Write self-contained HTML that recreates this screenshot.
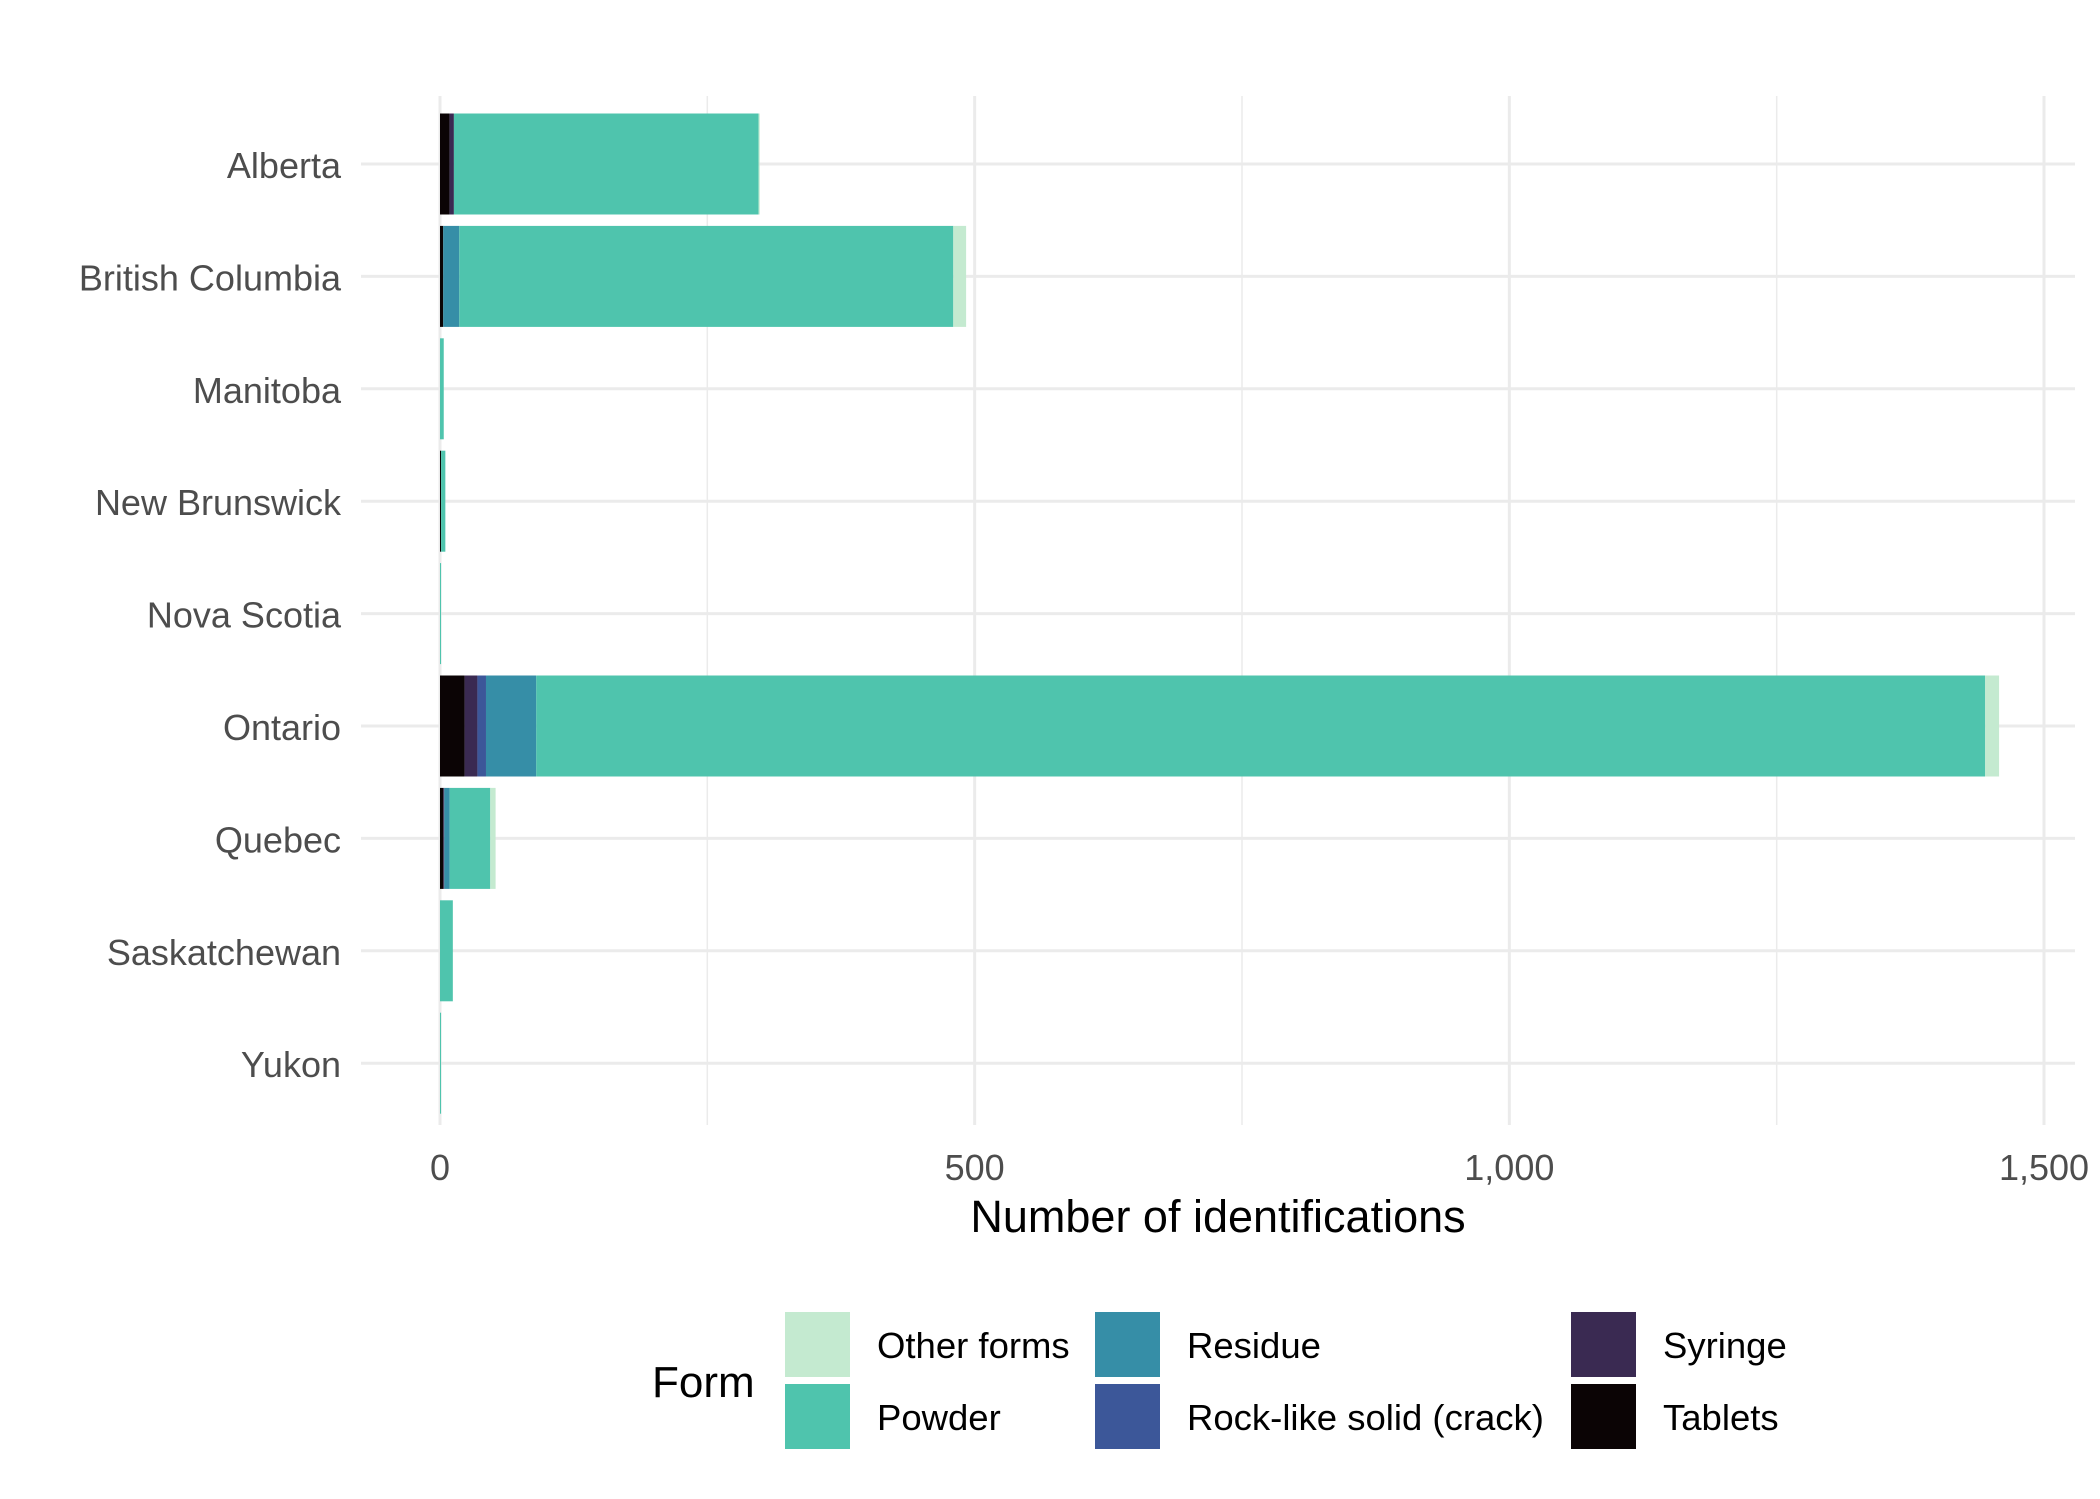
<!DOCTYPE html>
<html><head><meta charset="utf-8"><style>
html,body{margin:0;padding:0;background:#fff;}
svg{display:block;font-family:"Liberation Sans",sans-serif;}
</style></head><body>
<svg id="chart" width="2100" height="1499" viewBox="0 0 2100 1499"></svg>
<script>
const provinces = ["Alberta","British Columbia","Manitoba","New Brunswick","Nova Scotia","Ontario","Quebec","Saskatchewan","Yukon"];
const forms = ["Tablets","Syringe","Rock-like solid (crack)","Residue","Powder","Other forms"];
const tablets = [9,3,0,1,0,23,3,0,0];
const syringe = [4,0,0,0,0,12,1,0,0];
const rock = [0,0,0,0,0,8,0,0,0];
const residue = [0,15,0,0,0,47,5,0,0];
const powder = [285,462,3.5,4,1,1355,38,12,1];
const other = [1,12,0,0,0,13,5,0,0];
const xTicks = [0,500,1000,1500];
const xTickLabels = ["0","500","1,000","1,500"];
const xMinor = [250,750,1250];

const colors = {"Tablets":"#0b0405","Syringe":"#3a2a52","Rock-like solid (crack)":"#3c5799","Residue":"#368ea7","Powder":"#4fc4ad","Other forms":"#c4ead0"};
const series = [tablets,syringe,rock,residue,powder,other];
const NS="http://www.w3.org/2000/svg";
const svg=document.getElementById('chart');
function x(v){return 440+v*(2044-440)/1500;}
function y(i){return 164+i*112.4;}
const barH=101;
function mk(tag,attrs,parent){const e=document.createElementNS(NS,tag);for(const k in attrs)e.setAttribute(k,attrs[k]);(parent||svg).appendChild(e);return e;}

xMinor.forEach(v=>{const l=mk('line',{x1:x(v),x2:x(v),y1:96,y2:1125,stroke:'#ebebeb','stroke-width':1.5});

});
xTicks.forEach(v=>{const l=mk('line',{x1:x(v),x2:x(v),y1:96,y2:1125,stroke:'#ebebeb','stroke-width':3});

});
provinces.forEach((p,i)=>{const l=mk('line',{x1:361,x2:2075,y1:y(i),y2:y(i),stroke:'#ebebeb','stroke-width':3});

});

provinces.forEach((p,i)=>{
  let acc=0;
  series.forEach((s,k)=>{
    const v=s[i]; if(v<=0) return;
    const r=mk('rect',{x:x(acc),y:y(i)-barH/2,width:x(acc+v)-x(acc),height:barH,fill:colors[forms[k]]});
    
    
    acc+=v;
  });
  const t=mk('text',{x:341,y:y(i)+14,'text-anchor':'end','font-size':36,fill:'#4d4d4d'});
  t.textContent=p;
  
  
});

xTicks.forEach((v,k)=>{const t=mk('text',{x:x(v),y:1180,'text-anchor':'middle','font-size':36,fill:'#4d4d4d'});
t.textContent=xTickLabels[k];

});

const xt=mk('text',{x:1218,y:1232,'text-anchor':'middle','font-size':45,fill:'#000'});
xt.textContent='Number of identifications';



const lt=mk('text',{x:652,y:1397,'font-size':44,fill:'#000'});
lt.textContent='Form';


const legendItems=[["Other forms",785,1312],["Powder",785,1384],["Residue",1095,1312],["Rock-like solid (crack)",1095,1384],["Syringe",1571,1312],["Tablets",1571,1384]];
legendItems.forEach(([name,lx,ly])=>{
  const g=mk('g',{});
  
  
  mk('rect',{x:lx,y:ly,width:65,height:65,fill:colors[name]},g);
  const t=mk('text',{x:lx+92,y:ly+46,'font-size':36.5,fill:'#000'},g);
  t.textContent=name;
});
</script>
</body></html>
